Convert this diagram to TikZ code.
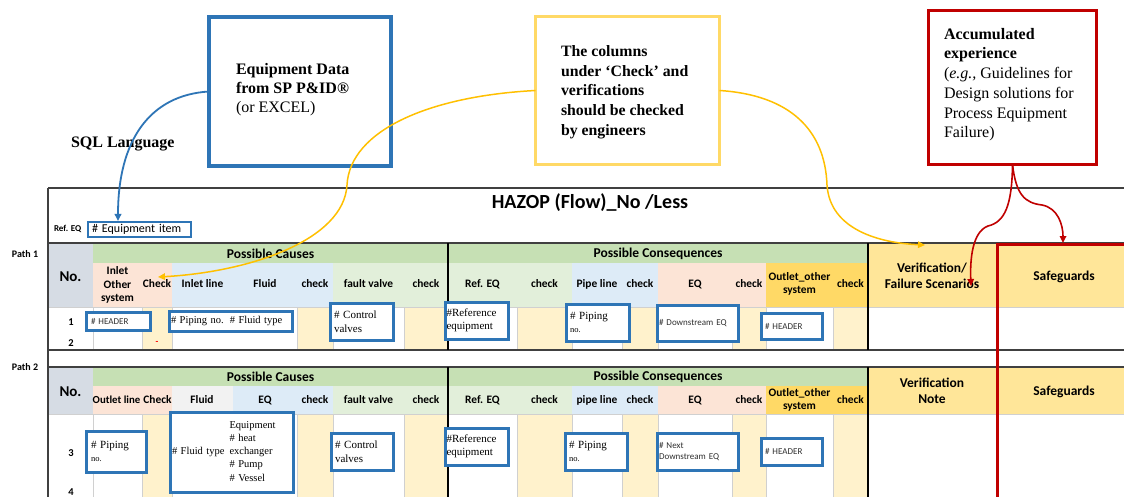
\documentclass[tikz,border=0pt]{standalone}
\usepackage{fontspec}
\setmainfont{Liberation Serif}
\newfontfamily\calfont{Carlito}
\usetikzlibrary{arrows.meta}
\definecolor{cblue}{HTML}{2E75B6}
\definecolor{cyelbox}{HTML}{FFD966}
\definecolor{cyel}{HTML}{FFC000}
\definecolor{cred}{HTML}{C00000}
\definecolor{cnohd}{HTML}{D6DCE4}
\definecolor{grphd}{HTML}{C6E0B4}
\definecolor{salmon}{HTML}{FCE4D6}
\definecolor{lblue}{HTML}{DDEBF7}
\definecolor{lgreen}{HTML}{E2EFDA}
\definecolor{gold}{HTML}{FFD966}
\definecolor{vgold}{HTML}{FFE699}
\definecolor{chk}{HTML}{FFF2CC}
\definecolor{lgray}{HTML}{F2F2F2}
\definecolor{framec}{HTML}{404040}
\definecolor{gridc}{HTML}{D0D0D0}
\definecolor{txtgray}{HTML}{303030}
\begin{document}
\begin{tikzpicture}[x=1pt,y=-1pt,
  every node/.style={outer sep=0pt},
  hd/.style={font=\calfont\bfseries\fontsize{11.4}{13.5}\selectfont, align=center, inner sep=0pt},
  grp/.style={font=\calfont\bfseries\fontsize{13.5}{15}\selectfont, inner sep=0pt},
  rhd/.style={font=\calfont\bfseries\fontsize{13.5}{15.5}\selectfont, align=center, inner sep=0pt},
  notxt/.style={font=\calfont\bfseries\fontsize{15}{17}\selectfont, inner sep=0pt},
  rowl/.style={font=\calfont\bfseries\fontsize{10.5}{12}\selectfont, inner sep=0pt},
  pathl/.style={font=\calfont\bfseries\fontsize{10}{11}\selectfont, inner sep=0pt},
  bbox/.style={draw=cblue, line width=3pt, fill=white, inner xsep=4pt, inner ysep=0pt, anchor=north west, align=left},
  sf/.style={font=\fontsize{11}{13.5}\selectfont},
  cf/.style={font=\calfont\fontsize{9}{11}\selectfont, text=txtgray},
  bigbox/.style={line width=3pt, anchor=north west, inner sep=0pt},
  btxt/.style={anchor=north west, inner sep=0pt, align=left},
  conn/.style={line width=1.6pt, -{Triangle[length=7pt,width=6.5pt]}}
]
\useasboundingbox (0,0) rectangle (1124,497);
\fill[white] (0,0) rectangle (1124,497);

% ---------- Path 1 fills ----------
\fill[cnohd] (48,243) rectangle (93,307);
\fill[grphd] (93,243) rectangle (868,263);
\fill[salmon] (93,263) rectangle (172,307);
\fill[lblue] (172,263) rectangle (333,307);
\fill[lgreen] (333,263) rectangle (572,307);
\fill[lblue] (572,263) rectangle (658,307);
\fill[salmon] (658,263) rectangle (766,307);
\fill[gold] (766,263) rectangle (868,307);
\fill[vgold] (868,243) rectangle (1124,307);
% ---------- Path 2 fills ----------
\fill[cnohd] (48,367) rectangle (93,414);
\fill[grphd] (93,367) rectangle (868,386);
\fill[salmon] (93,386) rectangle (172,414);
\fill[lgray] (172,386) rectangle (233,414);
\fill[lblue] (233,386) rectangle (333,414);
\fill[lgreen] (333,386) rectangle (572,414);
\fill[lblue] (572,386) rectangle (658,414);
\fill[salmon] (658,386) rectangle (766,414);
\fill[gold] (766,386) rectangle (868,414);
\fill[vgold] (868,367) rectangle (1124,414);
% data check columns
\foreach \a/\b in {142/172,297/333,404/448,517/572,622/658,732/766,833/868}{
  \fill[chk] (\a,307) rectangle (\b,350);
  \fill[chk] (\a,414) rectangle (\b,497);
}
% thin grid
\foreach \x in {93,142,172,297,333,404,517,572,622,658,732,766,833,996}{
  \draw[gridc, line width=0.5pt] (\x,307) -- (\x,350);
  \draw[gridc, line width=0.5pt] (\x,414) -- (\x,497);
}
\draw[gridc, line width=0.6pt] (48,307) -- (1124,307);
\draw[gridc, line width=0.6pt] (48,414) -- (1124,414);
% table frame lines
\draw[framec, line width=2pt] (48,188) -- (1124,188);
\draw[framec, line width=1.2pt] (48,243) -- (1124,243);
\draw[framec, line width=2pt] (48,350) -- (1124,350);
\draw[framec, line width=2pt] (48,367) -- (1124,367);
\draw[framec, line width=2pt] (48,188) -- (48,497);
\foreach \x in {448,868}{
  \draw[black, line width=1.2pt] (\x,243) -- (\x,350);
  \draw[black, line width=1.2pt] (\x,367) -- (\x,497);
}

% ---------- title area ----------
\node[font=\calfont\bfseries\fontsize{20}{24}\selectfont, inner sep=0pt] (title) at (590,203) {HAZOP (Flow)\_No /Less};
\node[font=\calfont\bfseries\fontsize{9}{11}\selectfont, anchor=west, inner sep=0pt] (refeq) at (54,229) {Ref. EQ};
\node[bbox, line width=2.5pt, minimum width=103pt, minimum height=15pt, text width=95pt, font=\calfont\fontsize{12}{14}\selectfont] (eqitem) at (88,222) {\# Equipment item};

% ---------- labels ----------
\node[pathl] (path1) at (25,254) {Path 1};
\node[pathl] (path2) at (25,367) {Path 2};

% ---------- Path 1 headers ----------
\node[notxt] (p1no) at (70.5,277) {No.};
\node[grp] (p1causes) at (270.5,254) {Possible Causes};
\node[grp] (p1cons) at (658,254) {Possible Consequences};
\node[hd] (p1inlet) at (117.5,285) {Inlet\\Other\\system};
\node[hd] (p1chk1) at (157,284) {Check};
\node[hd] (p1inline) at (202.5,284) {Inlet line};
\node[hd] (p1fluid) at (265,284) {Fluid};
\node[hd] (p1chk2) at (315,284) {check};
\node[hd] (p1fv) at (368.5,284) {fault valve};
\node[hd] (p1chk3) at (426,284) {check};
\node[hd] (p1ref) at (482.5,284) {Ref. EQ};
\node[hd] (p1chk4) at (544.5,284) {check};
\node[hd] (p1pipe) at (597,284) {Pipe line};
\node[hd] (p1chk5) at (640,284) {check};
\node[hd] (p1eq) at (695,284) {EQ};
\node[hd] (p1chk6) at (749,284) {check};
\node[hd] (p1out) at (799.5,284) {Outlet\_other\\system};
\node[hd] (p1chk7) at (850.5,284) {check};
\node[rhd] (p1ver) at (932,276) {Verification/\\Failure Scenarios};
\node[rhd] (p1safe) at (1064,277) {Safeguards};
\node[rowl] (r1) at (71,322) {1};
\node[rowl] (r2) at (71,343) {2};
\node[text=red, font=\calfont\bfseries\fontsize{9}{10}\selectfont, inner sep=0pt] (dash) at (157,343) {-};

% ---------- Path 2 headers ----------
\node[notxt] (p2no) at (70.5,392) {No.};
\node[grp] (p2causes) at (270.5,377) {Possible Causes};
\node[grp] (p2cons) at (658,377) {Possible Consequences};
\node[hd, font=\calfont\bfseries\fontsize{10.8}{13}\selectfont] (p2outl) at (116.5,400) {Outlet line};
\node[hd] (p2chk1) at (157.5,400) {Check};
\node[hd] (p2fluid) at (202,400) {Fluid};
\node[hd] (p2eq) at (265,400) {EQ};
\node[hd] (p2chk2) at (315,400) {check};
\node[hd] (p2fv) at (368.5,400) {fault valve};
\node[hd] (p2chk3) at (426,400) {check};
\node[hd] (p2ref) at (482.5,400) {Ref. EQ};
\node[hd] (p2chk4) at (544.5,400) {check};
\node[hd] (p2pipe) at (597,400) {pipe line};
\node[hd] (p2chk5) at (640,400) {check};
\node[hd] (p2eq2) at (695,400) {EQ};
\node[hd] (p2chk6) at (749,400) {check};
\node[hd] (p2out) at (799.5,400) {Outlet\_other\\system};
\node[hd] (p2chk7) at (850.5,400) {check};
\node[rhd] (p2ver) at (932,391) {Verification\\Note};
\node[rhd] (p2safe) at (1064,392) {Safeguards};
\node[rowl] (r3) at (71,453) {3};
\node[rowl] (r4) at (71,492) {4};

% ---------- blue data boxes, path 1 ----------
\node[bbox, cf, minimum width=64pt, minimum height=18pt, inner xsep=5pt, text width=54pt] (b1) at (86,312) {\# HEADER};
\node[bbox, font=\fontsize{10.5}{13}\selectfont, minimum width=123pt, minimum height=20pt, inner xsep=2pt, text width=119pt] (b2) at (169,311) {\# Piping no.\hspace{6pt}\# Fluid type};
\node[bbox, sf, minimum width=63pt, minimum height=37pt, text width=55pt] (b3) at (330,303) {\# Control\\valves};
\node[bbox, sf, minimum width=63pt, minimum height=37pt, inner xsep=1.5pt, text width=60pt] (b4) at (445,302) {\#Reference\\equipment};
\node[bbox, sf, minimum width=63pt, minimum height=37pt, text width=55pt] (b5) at (566,304) {\# Piping\\{\fontsize{8.5}{10}\selectfont no.}};
\node[bbox, cf, minimum width=81pt, minimum height=36pt, inner xsep=2pt, text width=77pt] (b6) at (657,305) {\# Downstream EQ};
\node[bbox, cf, minimum width=61pt, minimum height=26pt, text width=53pt] (b7) at (761,313) {\# HEADER};

% ---------- blue data boxes, path 2 ----------
\node[bbox, sf, minimum width=60pt, minimum height=41pt, inner xsep=5pt, text width=50pt] (c1) at (86,431) {\# Piping\\{\fontsize{8.5}{10}\selectfont no.}};
\node[bbox, font=\fontsize{10.5}{13.3}\selectfont, minimum width=123pt, minimum height=80pt, inner xsep=2pt, text width=119pt] (c2) at (170,412) {\# Fluid type\hspace{5pt}\begin{tabular}[c]{@{}l@{}}Equipment\\\# heat\\exchanger\\\# Pump\\\# Vessel\end{tabular}};
\node[bbox, sf, minimum width=62pt, minimum height=37pt, text width=54pt] (c3) at (331,433) {\# Control\\valves};
\node[bbox, sf, minimum width=63pt, minimum height=37pt, inner xsep=1.5pt, text width=60pt] (c4) at (445,428) {\#Reference\\equipment};
\node[bbox, sf, minimum width=62pt, minimum height=37pt, text width=54pt] (c5) at (565,433) {\# Piping\\{\fontsize{8.5}{10}\selectfont no.}};
\node[bbox, cf, minimum width=81pt, minimum height=37pt, inner xsep=2pt, text width=77pt] (c6) at (657,433) {\# Next\\Downstream EQ};
\node[bbox, cf, minimum width=61pt, minimum height=27pt, text width=53pt] (c7) at (761,438) {\# HEADER};

% ---------- top call-out boxes ----------
\node[bigbox, draw=cblue, line width=3.5pt, minimum width=182pt, minimum height=149pt] (eqbox) at (209,17) {};
\node[btxt, font=\bfseries\fontsize{16}{19.3}\selectfont] (eqtxt) at (236,63) {Equipment Data\\from SP P\&ID\textregistered\\{\mdseries (or EXCEL)}};
\node[font=\bfseries\fontsize{16}{19}\selectfont, anchor=west, inner sep=0pt] (sql) at (71,144) {SQL Language};

\node[bigbox, draw=cyelbox, minimum width=184pt, minimum height=148pt] (ylwbox) at (535.5,16.5) {};
\node[btxt, font=\bfseries\fontsize{15.8}{19.7}\selectfont] (ylwtxt) at (561,45.5) {The columns\\under `Check' and\\verifications\\should be checked\\by engineers};

\node[bigbox, draw=cred, minimum width=168pt, minimum height=154pt] (accbox) at (928.5,10.5) {};
\node[btxt, font=\fontsize{16}{19.7}\selectfont] (acctxt) at (944,28.2) {\textbf{Accumulated}\\\textbf{experience}\\(\textit{e.g.,} Guidelines for\\Design solutions for\\Process Equipment\\Failure)};

% ---------- connectors ----------
\coordinate (eqtip) at (118,221);
\coordinate (chktip) at (158,277);
\coordinate (vtip) at (925,245);
\coordinate (ftip) at (971,286);
\coordinate (sgtip) at (1063,243);

\draw[conn, cblue, line width=1.8pt] (eqbox.west) .. controls (150,95) and (118,140) .. (eqtip);
\draw[conn, cyel, line width=1.5pt] (ylwbox.west) .. controls (430,96) and (350,130) .. (347,185) .. controls (344,240) and (250,272) .. (chktip);
\draw[conn, cyel, line width=1.5pt] (ylwbox.east) .. controls (790,95) and (825,130) .. (827,185) .. controls (830,230) and (880,243) .. (vtip);

\node[draw=cred, line width=3pt, minimum width=140pt, minimum height=270pt, anchor=north west, inner sep=0pt] (sgframe) at (997.5,244.5) {};

\draw[conn, cred] (accbox.south) .. controls (1012,205) and (1005,222) .. (988,226) .. controls (972,232) and (970,260) .. (ftip);
\draw[conn, cred] (accbox.south) .. controls (1016,195) and (1025,203) .. (1042,205) .. controls (1058,208) and (1063,225) .. (sgtip);
\end{tikzpicture}
\end{document}
